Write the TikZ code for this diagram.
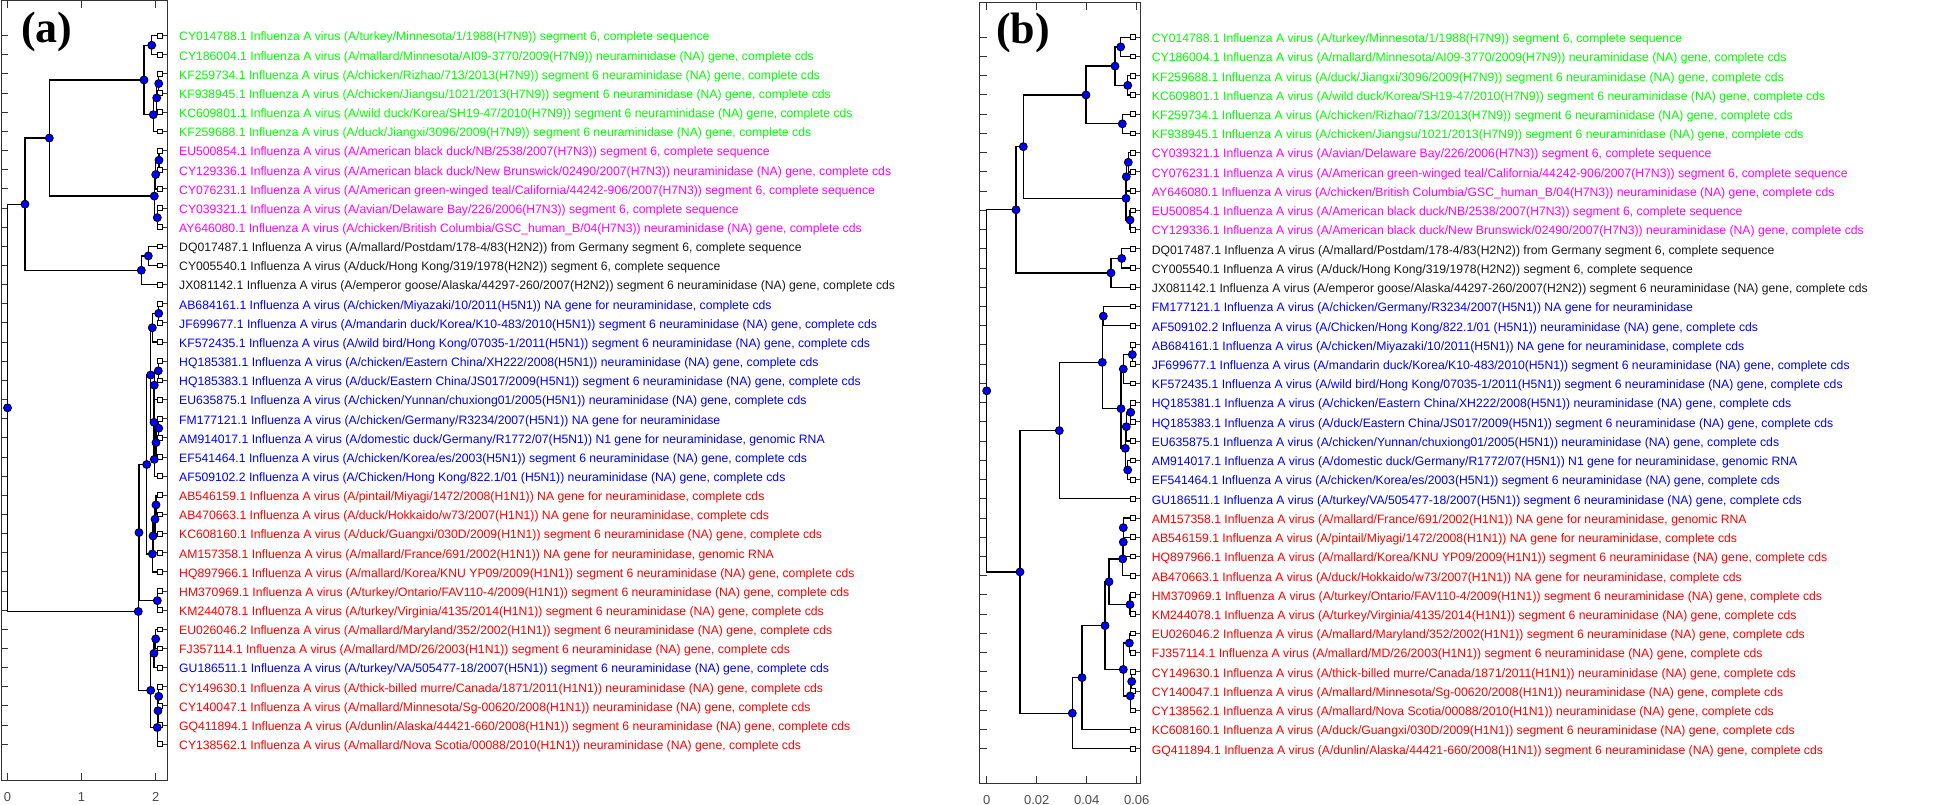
\documentclass[tikz,border=0pt]{standalone}
\usepackage{fontspec}
\setmainfont{Liberation Sans}
\newfontfamily\titlefont{Liberation Serif}
\usetikzlibrary{calc}
\pgfdeclarelayer{fg}
\pgfsetlayers{main,fg}
\definecolor{cG}{rgb}{0,1,0}
\definecolor{cM}{rgb}{1,0,1}
\definecolor{cB}{rgb}{0,0,1}
\definecolor{cR}{rgb}{1,0,0}
\definecolor{cK}{rgb}{0.1,0.1,0.1}
\newcommand\deflab[3]{\expandafter\def\csname lab-#1\endcsname{\textcolor{#2}{#3}}}
\deflab{CY014788}{cG}{CY014788.1 Influenza A virus (A/turkey/Minnesota/1/1988(H7N9)) segment 6, complete sequence}
\deflab{CY186004}{cG}{CY186004.1 Influenza A virus (A/mallard/Minnesota/AI09-3770/2009(H7N9)) neuraminidase (NA) gene, complete cds}
\deflab{KF259734}{cG}{KF259734.1 Influenza A virus (A/chicken/Rizhao/713/2013(H7N9)) segment 6 neuraminidase (NA) gene, complete cds}
\deflab{KF938945}{cG}{KF938945.1 Influenza A virus (A/chicken/Jiangsu/1021/2013(H7N9)) segment 6 neuraminidase (NA) gene, complete cds}
\deflab{KC609801}{cG}{KC609801.1 Influenza A virus (A/wild duck/Korea/SH19-47/2010(H7N9)) segment 6 neuraminidase (NA) gene, complete cds}
\deflab{KF259688}{cG}{KF259688.1 Influenza A virus (A/duck/Jiangxi/3096/2009(H7N9)) segment 6 neuraminidase (NA) gene, complete cds}
\deflab{EU500854}{cM}{EU500854.1 Influenza A virus (A/American black duck/NB/2538/2007(H7N3)) segment 6, complete sequence}
\deflab{CY129336}{cM}{CY129336.1 Influenza A virus (A/American black duck/New Brunswick/02490/2007(H7N3)) neuraminidase (NA) gene, complete cds}
\deflab{CY076231}{cM}{CY076231.1 Influenza A virus (A/American green-winged teal/California/44242-906/2007(H7N3)) segment 6, complete sequence}
\deflab{CY039321}{cM}{CY039321.1 Influenza A virus (A/avian/Delaware Bay/226/2006(H7N3)) segment 6, complete sequence}
\deflab{AY646080}{cM}{AY646080.1 Influenza A virus (A/chicken/British Columbia/GSC\_human\_B/04(H7N3)) neuraminidase (NA) gene, complete cds}
\deflab{DQ017487}{cK}{DQ017487.1 Influenza A virus (A/mallard/Postdam/178-4/83(H2N2)) from Germany segment 6, complete sequence}
\deflab{CY005540}{cK}{CY005540.1 Influenza A virus (A/duck/Hong Kong/319/1978(H2N2)) segment 6, complete sequence}
\deflab{JX081142}{cK}{JX081142.1 Influenza A virus (A/emperor goose/Alaska/44297-260/2007(H2N2)) segment 6 neuraminidase (NA) gene, complete cds}
\deflab{AB684161}{cB}{AB684161.1 Influenza A virus (A/chicken/Miyazaki/10/2011(H5N1)) NA gene for neuraminidase, complete cds}
\deflab{JF699677}{cB}{JF699677.1 Influenza A virus (A/mandarin duck/Korea/K10-483/2010(H5N1)) segment 6 neuraminidase (NA) gene, complete cds}
\deflab{KF572435}{cB}{KF572435.1 Influenza A virus (A/wild bird/Hong Kong/07035-1/2011(H5N1)) segment 6 neuraminidase (NA) gene, complete cds}
\deflab{HQ185381}{cB}{HQ185381.1 Influenza A virus (A/chicken/Eastern China/XH222/2008(H5N1)) neuraminidase (NA) gene, complete cds}
\deflab{HQ185383}{cB}{HQ185383.1 Influenza A virus (A/duck/Eastern China/JS017/2009(H5N1)) segment 6 neuraminidase (NA) gene, complete cds}
\deflab{EU635875}{cB}{EU635875.1 Influenza A virus (A/chicken/Yunnan/chuxiong01/2005(H5N1)) neuraminidase (NA) gene, complete cds}
\deflab{FM177121}{cB}{FM177121.1 Influenza A virus (A/chicken/Germany/R3234/2007(H5N1)) NA gene for neuraminidase}
\deflab{AM914017}{cB}{AM914017.1 Influenza A virus (A/domestic duck/Germany/R1772/07(H5N1)) N1 gene for neuraminidase, genomic RNA}
\deflab{EF541464}{cB}{EF541464.1 Influenza A virus (A/chicken/Korea/es/2003(H5N1)) segment 6 neuraminidase (NA) gene, complete cds}
\deflab{AF509102}{cB}{AF509102.2 Influenza A virus (A/Chicken/Hong Kong/822.1/01 (H5N1)) neuraminidase (NA) gene, complete cds}
\deflab{AB546159}{cR}{AB546159.1 Influenza A virus (A/pintail/Miyagi/1472/2008(H1N1)) NA gene for neuraminidase, complete cds}
\deflab{AB470663}{cR}{AB470663.1 Influenza A virus (A/duck/Hokkaido/w73/2007(H1N1)) NA gene for neuraminidase, complete cds}
\deflab{KC608160}{cR}{KC608160.1 Influenza A virus (A/duck/Guangxi/030D/2009(H1N1)) segment 6 neuraminidase (NA) gene, complete cds}
\deflab{AM157358}{cR}{AM157358.1 Influenza A virus (A/mallard/France/691/2002(H1N1)) NA gene for neuraminidase, genomic RNA}
\deflab{HQ897966}{cR}{HQ897966.1 Influenza A virus (A/mallard/Korea/KNU YP09/2009(H1N1)) segment 6 neuraminidase (NA) gene, complete cds}
\deflab{HM370969}{cR}{HM370969.1 Influenza A virus (A/turkey/Ontario/FAV110-4/2009(H1N1)) segment 6 neuraminidase (NA) gene, complete cds}
\deflab{KM244078}{cR}{KM244078.1 Influenza A virus (A/turkey/Virginia/4135/2014(H1N1)) segment 6 neuraminidase (NA) gene, complete cds}
\deflab{EU026046}{cR}{EU026046.2 Influenza A virus (A/mallard/Maryland/352/2002(H1N1)) segment 6 neuraminidase (NA) gene, complete cds}
\deflab{FJ357114}{cR}{FJ357114.1 Influenza A virus (A/mallard/MD/26/2003(H1N1)) segment 6 neuraminidase (NA) gene, complete cds}
\deflab{GU186511}{cB}{GU186511.1 Influenza A virus (A/turkey/VA/505477-18/2007(H5N1)) segment 6 neuraminidase (NA) gene, complete cds}
\deflab{CY149630}{cR}{CY149630.1 Influenza A virus (A/thick-billed murre/Canada/1871/2011(H1N1)) neuraminidase (NA) gene, complete cds}
\deflab{CY140047}{cR}{CY140047.1 Influenza A virus (A/mallard/Minnesota/Sg-00620/2008(H1N1)) neuraminidase (NA) gene, complete cds}
\deflab{GQ411894}{cR}{GQ411894.1 Influenza A virus (A/dunlin/Alaska/44421-660/2008(H1N1)) segment 6 neuraminidase (NA) gene, complete cds}
\deflab{CY138562}{cR}{CY138562.1 Influenza A virus (A/mallard/Nova Scotia/00088/2010(H1N1)) neuraminidase (NA) gene, complete cds}

\tikzset{
 branch/.style={line width=1.3pt, black},
 dot/.style={circle, fill=blue, draw=black, line width=0.8pt, minimum size=8pt, inner sep=0pt},
 leafsq/.style={rectangle, fill=white, draw=black, line width=0.9pt, minimum size=4.8pt, inner sep=0pt},
 lbl/.style={anchor=base west, inner sep=0pt, font=\fontsize{12.2}{14}\selectfont},
 ticklbl/.style={font=\fontsize{13}{15}\selectfont, text=black!70, inner sep=0pt},
 axisline/.style={line width=1pt, black!80},
 paneltitle/.style={font=\titlefont\bfseries\fontsize{44}{48}\selectfont, inner sep=0pt}
}
\newcommand\inode[4]{%
  \path let \p1=($(#3)!.5!(#4)$) in coordinate (#1) at (#2pt,\y1);
  \draw[branch] (#1) |- (#3);
  \draw[branch] (#1) |- (#4);
  \begin{pgfonlayer}{fg}\node[dot] (dot-#1) at (#1) {};\end{pgfonlayer}%
}

\begin{document}
\begin{tikzpicture}[x=1pt,y=-1pt]
\useasboundingbox (0,0) rectangle (1945,805);

% ---------------- panel (a) ----------------
\draw[axisline] (1,0.8) rectangle (167,780);
\foreach \i in {1,...,38}{
  \draw[axisline] (1,{35.7+19.15*(\i-1)}) -- (8,{35.7+19.15*(\i-1)});
  \draw[axisline] (167,{35.7+19.15*(\i-1)}) -- (160,{35.7+19.15*(\i-1)});
}
\foreach \xx in {7.5,81.6,155.7}{
  \draw[axisline] (\xx,780) -- (\xx,773);
  \draw[axisline] (\xx,0.8) -- (\xx,8);
}
\node[ticklbl] (xa0) at (7.5,797) {0};
\node[ticklbl] (xa1) at (81.6,797) {1};
\node[ticklbl] (xa2) at (155.7,797) {2};
\node[paneltitle] (titleA) at (47,32) {(a)};

\foreach \id [count=\i] in {CY014788,CY186004,KF259734,KF938945,KC609801,KF259688,EU500854,CY129336,CY076231,CY039321,AY646080,DQ017487,CY005540,JX081142,AB684161,JF699677,KF572435,HQ185381,HQ185383,EU635875,FM177121,AM914017,EF541464,AF509102,AB546159,AB470663,KC608160,AM157358,HQ897966,HM370969,KM244078,EU026046,FJ357114,GU186511,CY149630,CY140047,GQ411894,CY138562}{
  \coordinate (a\i) at (160,{35.7+19.15*(\i-1)});
  \begin{pgfonlayer}{fg}\node[leafsq] (sqa\i) at (a\i) {};\end{pgfonlayer}
  \node[lbl] (ta\i) at (179,{35.7+19.15*(\i-1)+5.3}) {\csname lab-\id\endcsname};
}

\inode{ag4}{158.7}{a3}{a4}
\inode{ag3}{156.7}{ag4}{a5}
\inode{ag2}{153.3}{ag3}{a6}
\inode{ag1}{151.7}{a1}{a2}
\inode{aG}{144}{ag1}{ag2}
\inode{am2}{159}{a7}{a8}
\inode{am1}{155.7}{am2}{a9}
\inode{am3}{157.3}{a10}{a11}
\inode{aM}{154.3}{am1}{am3}
\inode{aA1}{49.3}{aG}{aM}
\inode{aa3}{148.3}{a12}{a13}
\inode{aA2}{141.3}{aa3}{a14}
\inode{aA}{25}{aA1}{aA2}
\inode{ab4}{158.7}{a15}{a16}
\inode{ab2}{152.3}{ab4}{a17}
\inode{ab7}{158.3}{a18}{a19}
\inode{ab5}{154.3}{ab7}{a20}
\inode{ab9}{158.7}{a21}{a22}
\inode{ab8}{156}{ab9}{a23}
\inode{ab6}{154.3}{ab8}{a24}
\inode{ab3}{154}{ab5}{ab6}
\inode{ab1}{150.7}{ab2}{ab3}
\inode{ar1}{156}{a25}{a26}
\inode{ar2}{155}{ar1}{a27}
\inode{ar3}{153}{ar2}{a28}
\inode{ar4}{152.3}{ar3}{a29}
\inode{aC1}{146.7}{ab1}{ar4}
\inode{aC2}{157.3}{a30}{a31}
\inode{aC}{139}{aC1}{aC2}
\inode{ad1}{155.7}{a32}{a33}
\inode{ad2}{154}{ad1}{a34}
\inode{ad3}{158.7}{a35}{a36}
\inode{ad4}{158}{ad3}{a37}
\inode{ad5}{157.3}{ad4}{a38}
\inode{aD}{150.7}{ad2}{ad5}
\inode{aB}{138.3}{aC}{aD}
\inode{aR}{7.5}{aA}{aB}

% ---------------- panel (b) ----------------
\draw[axisline] (979,2.7) rectangle (1140,783.3);
\foreach \i in {1,...,38}{
  \draw[axisline] (979,{37.3+19.23*(\i-1)}) -- (986.5,{37.3+19.23*(\i-1)});
  \draw[axisline] (1140,{37.3+19.23*(\i-1)}) -- (1133,{37.3+19.23*(\i-1)});
}
\foreach \xx in {986.7,1036.7,1086.7,1136.7}{
  \draw[axisline] (\xx,783.3) -- (\xx,776);
  \draw[axisline] (\xx,2.7) -- (\xx,10);
}
\node[ticklbl] (xb0) at (986.7,800) {0};
\node[ticklbl] (xb1) at (1036.7,800) {0.02};
\node[ticklbl] (xb2) at (1086.7,800) {0.04};
\node[ticklbl] (xb3) at (1136.7,800) {0.06};
\node[paneltitle] (titleB) at (1023,33) {(b)};

\foreach \id [count=\i] in {CY014788,CY186004,KF259688,KC609801,KF259734,KF938945,CY039321,CY076231,AY646080,EU500854,CY129336,DQ017487,CY005540,JX081142,FM177121,AF509102,AB684161,JF699677,KF572435,HQ185381,HQ185383,EU635875,AM914017,EF541464,GU186511,AM157358,AB546159,HQ897966,AB470663,HM370969,KM244078,EU026046,FJ357114,CY149630,CY140047,CY138562,KC608160,GQ411894}{
  \coordinate (b\i) at (1132.7,{37.3+19.23*(\i-1)});
  \begin{pgfonlayer}{fg}\node[leafsq] (sqb\i) at (b\i) {};\end{pgfonlayer}
  \node[lbl] (tb\i) at (1151.7,{37.3+19.23*(\i-1)+5.3}) {\csname lab-\id\endcsname};
}

\inode{bg1}{1120.7}{b1}{b2}
\inode{bg2}{1127.7}{b3}{b4}
\inode{bg3}{1115}{bg1}{bg2}
\inode{bg4}{1122.3}{b5}{b6}
\inode{bG}{1086}{bg3}{bg4}
\inode{bm1}{1128.3}{b7}{b8}
\inode{bm2}{1126.3}{bm1}{b9}
\inode{bm3}{1130}{b10}{b11}
\inode{bM}{1126}{bm2}{bm3}
\inode{bP1}{1023.3}{bG}{bM}
\inode{bk1}{1121.7}{b12}{b13}
\inode{bK}{1111}{bk1}{b14}
\inode{bP}{1016}{bP1}{bK}
\inode{bh1}{1103.3}{b15}{b16}
\inode{bh2}{1132.3}{b17}{b18}
\inode{bh3}{1123.3}{bh2}{b19}
\inode{bh4}{1130.7}{b20}{b21}
\inode{bh5}{1126.3}{bh4}{b22}
\inode{bh6}{1127.7}{b23}{b24}
\inode{bh7}{1125.3}{bh5}{bh6}
\inode{bh8}{1121}{bh3}{bh7}
\inode{bh9}{1102.3}{bh1}{bh8}
\inode{bH}{1059.3}{bh9}{b25}
\inode{br1}{1123.3}{b26}{b27}
\inode{br2}{1123.3}{br1}{b28}
\inode{br3}{1122.7}{br2}{b29}
\inode{br4}{1130}{b30}{b31}
\inode{br5}{1109}{br3}{br4}
\inode{br6}{1129.3}{b32}{b33}
\inode{br7}{1131.7}{b34}{b35}
\inode{br8}{1130.3}{br7}{b36}
\inode{br9}{1123.3}{br6}{br8}
\inode{br10}{1105}{br5}{br9}
\inode{br11}{1082}{br10}{b37}
\inode{bRr}{1072.3}{br11}{b38}
\inode{bQ}{1020}{bH}{bRr}
\inode{bRoot}{986.7}{bP}{bQ}
\end{tikzpicture}
\end{document}
